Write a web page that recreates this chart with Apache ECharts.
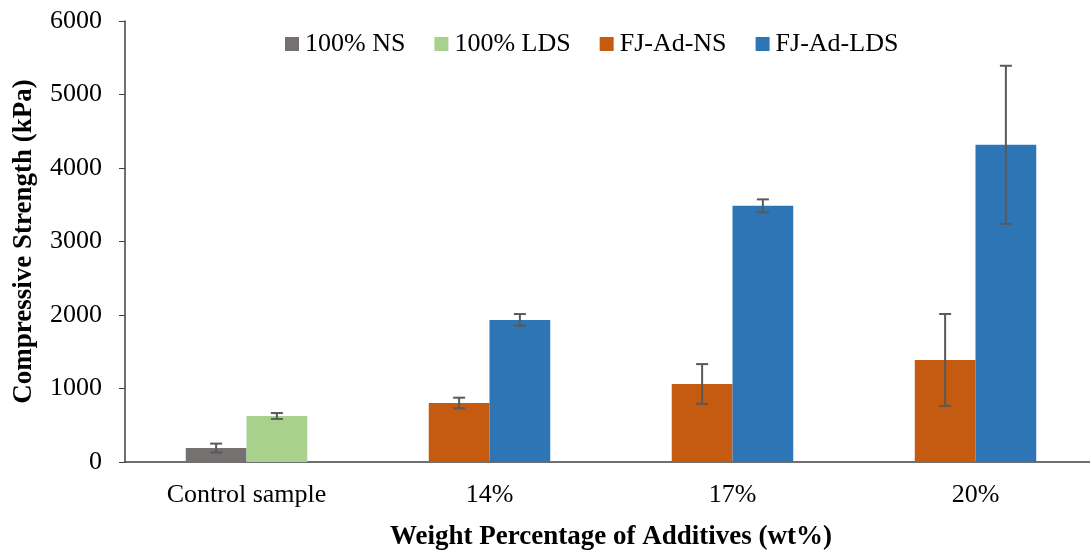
<!DOCTYPE html>
<html>
<head>
<meta charset="utf-8">
<script src="https://cdn.jsdelivr.net/npm/echarts@6/dist/echarts.min.js"></script>
<style>
html,body{margin:0;padding:0;background:#fff;}
#chart{width:1090px;height:552px;}
</style>
</head>
<body>
<div id="chart"></div>
<script>
// ---- data ----
const categories = ['Control sample', '14%', '17%', '20%'];
const seriesNames = ['100% NS', '100% LDS', 'FJ-Ad-NS', 'FJ-Ad-LDS'];
// values (kPa)
const ns100 = [190, '-', '-', '-'];
const lds100 = [626, '-', '-', '-'];
const fjAdNS = ['-', 803, 1062, 1389];
const fjAdLDS = ['-', 1933, 3485, 4316];
// error bar half-lengths (kPa)
const ns100Err = [60, 0, 0, 0];
const lds100Err = [40, 0, 0, 0];
const fjAdNSErr = [0, 72, 270, 625];
const fjAdLDSErr = [0, 80, 88, 1075];
const yTicks = { min: 0, max: 6000, interval: 1000 };

const colors = ['#767171', '#A9D18E', '#C55A11', '#2E75B6'];
const FONT = 'Liberation Serif';

function errData(vals, errs, side) {
  const out = [];
  vals.forEach((v, i) => {
    if (v !== '-' && errs[i] > 0) out.push([i, v - errs[i], v + errs[i], side]);
  });
  return out;
}
const errLeft = errData(ns100, ns100Err, -1).concat(errData(fjAdNS, fjAdNSErr, -1));
const errRight = errData(lds100, lds100Err, 1).concat(errData(fjAdLDS, fjAdLDSErr, 1));

function renderErr(params, api) {
  const x = api.value(0);
  const lo = api.value(1), hi = api.value(2), side = api.value(3);
  const band = api.size([1, 0])[0];
  const pLo = api.coord([x, lo]);
  const pHi = api.coord([x, hi]);
  const cx = pLo[0] + side * band * 0.125;
  const cap = 6;
  const style = { stroke: '#595959', lineWidth: 2, fill: null };
  return {
    type: 'group',
    children: [
      { type: 'line', shape: { x1: cx, y1: pLo[1], x2: cx, y2: pHi[1] }, style },
      { type: 'line', shape: { x1: cx - cap, y1: pLo[1], x2: cx + cap, y2: pLo[1] }, style },
      { type: 'line', shape: { x1: cx - cap, y1: pHi[1], x2: cx + cap, y2: pHi[1] }, style }
    ]
  };
}

const chart = echarts.init(document.getElementById('chart'), null, { renderer: 'canvas' });
chart.setOption({
  animation: false,
  backgroundColor: '#fff',
  textStyle: { fontFamily: FONT },
  legend: {
    data: seriesNames,
    top: 31,
    left: 285,
    padding: 0,
    itemWidth: 14,
    itemHeight: 14,
    itemGap: 29,
    icon: 'rect',
    textStyle: { fontFamily: FONT, fontSize: 26, color: '#000', padding: [0, 0, 0, 1] }
  },
  grid: { left: 125, width: 972, top: 21, height: 441, containLabel: false, outerBoundsMode: 'none' },
  xAxis: {
    type: 'category',
    data: categories,
    axisTick: { show: false },
    axisLine: { lineStyle: { color: '#404040', width: 1.5 } },
    axisLabel: { fontFamily: FONT, fontSize: 26, color: '#000', margin: 20 },
    name: 'Weight Percentage of Additives (wt%)',
    nameLocation: 'middle',
    nameGap: 62,
    nameTextStyle: { fontFamily: FONT, fontSize: 27, fontWeight: 'bold', color: '#000' }
  },
  yAxis: {
    type: 'value',
    min: yTicks.min,
    max: yTicks.max,
    interval: yTicks.interval,
    splitLine: { show: false },
    axisLine: { show: true, lineStyle: { color: '#404040', width: 1.5 } },
    axisTick: { show: true, length: 6, lineStyle: { color: '#404040' } },
    axisLabel: { fontFamily: FONT, fontSize: 26, color: '#000', margin: 23, formatter: v => String(v) },
    name: 'Compressive Strength (kPa)',
    nameLocation: 'middle',
    nameGap: 87,
    nameTextStyle: { fontFamily: FONT, fontSize: 27, fontWeight: 'bold', color: '#000' }
  },
  series: [
    { name: seriesNames[0], type: 'bar', stack: 'L', data: ns100, barWidth: '25%', barGap: '0%', itemStyle: { color: colors[0] } },
    { name: seriesNames[1], type: 'bar', stack: 'R', data: lds100, barWidth: '25%', barGap: '0%', itemStyle: { color: colors[1] } },
    { name: seriesNames[2], type: 'bar', stack: 'L', data: fjAdNS, barWidth: '25%', barGap: '0%', itemStyle: { color: colors[2] } },
    { name: seriesNames[3], type: 'bar', stack: 'R', data: fjAdLDS, barWidth: '25%', barGap: '0%', itemStyle: { color: colors[3] } },
    { name: 'errL', type: 'custom', renderItem: renderErr, data: errLeft, z: 10, encode: { x: 0, y: [1, 2] } },
    { name: 'errR', type: 'custom', renderItem: renderErr, data: errRight, z: 10, encode: { x: 0, y: [1, 2] } }
  ]
});
</script>
</body>
</html>
